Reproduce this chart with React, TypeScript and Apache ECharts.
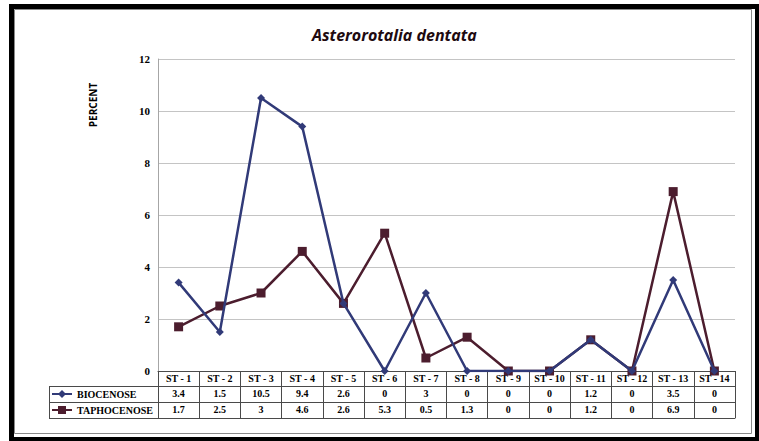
import React, { useEffect, useRef } from "react";
import * as echarts from "echarts";

// Stations along the transect
const stations = [
  "ST - 1", "ST - 2", "ST - 3", "ST - 4", "ST - 5", "ST - 6", "ST - 7",
  "ST - 8", "ST - 9", "ST - 10", "ST - 11", "ST - 12", "ST - 13", "ST - 14",
];

// Relative abundance (%) of Asterorotalia dentata
const biocenose = [3.4, 1.5, 10.5, 9.4, 2.6, 0, 3, 0, 0, 0, 1.2, 0, 3.5, 0];
const taphocenose = [1.7, 2.5, 3, 4.6, 2.6, 5.3, 0.5, 1.3, 0, 0, 1.2, 0, 6.9, 0];

const yTicks = { min: 0, max: 12, interval: 2 };

const BLUE = "#313a78";
const MAROON = "#4c1d2e";
const TABLE_LINE = "#4a4a4a";
const SERIF = "Liberation Serif";
const SANS = "Open Sans";

const ROW = 16; // data-table row height

export default function App() {
  const ref = useRef<HTMLDivElement>(null);

  useEffect(() => {
    if (!ref.current) return;
    const chart = echarts.init(ref.current, undefined, { renderer: "svg" });

    const tableAxis = (offset: number, values: (string | number)[] | null, ticks: boolean) => ({
      type: "category" as const,
      data: stations,
      position: "bottom" as const,
      offset,
      boundaryGap: true,
      axisLine: { show: true, lineStyle: { color: TABLE_LINE, width: 1 } },
      axisTick: { show: ticks, length: ROW, interval: 0, lineStyle: { color: TABLE_LINE, width: 1 } },
      axisLabel: {
        show: values !== null,
        interval: 0,
        margin: 2,
        fontFamily: SERIF,
        fontWeight: "bold" as const,
        fontSize: 10,
        color: "#000",
        formatter: (_v: string, i: number) => (values ? String(values[i]) : ""),
      },
      splitLine: { show: false },
    });

    const gridLeft = 158;
    const legendTop = 386;

    chart.setOption({
      animation: false,
      backgroundColor: "#fff",
      title: {
        text: "Asterorotalia dentata",
        left: 312,
        top: 27,
        padding: 0,
        textStyle: {
          fontFamily: SANS,
          fontStyle: "italic",
          fontWeight: "bold",
          fontSize: 16,
          color: "#1e0a10",
        },
      },
      grid: { left: gridLeft, top: 59, right: 24, bottom: 70, containLabel: false },
      legend: {
        orient: "vertical",
        left: 51,
        top: legendTop + 3,
        padding: 0,
        itemWidth: 20,
        itemHeight: 10,
        itemGap: 6,
        textStyle: { fontFamily: SERIF, fontWeight: "bold", fontSize: 10, color: "#000" },
        data: ["BIOCENOSE", "TAPHOCENOSE"],
      },
      xAxis: [
        tableAxis(0, stations, true),
        tableAxis(ROW - 1, biocenose, true),
        tableAxis(2 * ROW - 1, taphocenose, true),
        tableAxis(3 * ROW - 1, null, false),
      ],
      yAxis: {
        type: "value",
        min: yTicks.min,
        max: yTicks.max,
        interval: yTicks.interval,
        axisLine: { show: true, lineStyle: { color: "#a6a6a6" } },
        axisTick: { show: false },
        axisLabel: {
          margin: 8,
          fontFamily: SERIF,
          fontWeight: "bold",
          fontSize: 11,
          color: "#000",
        },
        splitLine: { show: true, lineStyle: { color: "#c4c4c4", width: 1 } },
      },
      series: [
        {
          name: "BIOCENOSE",
          type: "line",
          xAxisIndex: 0,
          data: biocenose,
          symbol: "diamond",
          symbolSize: 8,
          lineStyle: { color: BLUE, width: 2.5 },
          itemStyle: { color: BLUE },
          z: 3,
        },
        {
          name: "TAPHOCENOSE",
          type: "line",
          xAxisIndex: 0,
          data: taphocenose,
          symbol: "rect",
          symbolSize: 9,
          lineStyle: { color: MAROON, width: 2.5 },
          itemStyle: { color: MAROON },
          z: 2,
        },
      ],
      graphic: [
        // frame
        {
          type: "rect",
          shape: { x: 11.5, y: 6.5, width: 746, height: 433 },
          style: { fill: "none", stroke: "#000", lineWidth: 5 },
          silent: true,
        },
        {
          type: "rect",
          shape: { x: 14.5, y: 9.5, width: 737, height: 424 },
          style: { fill: "none", stroke: "#8a8a8a", lineWidth: 1 },
          silent: true,
        },
        // y-axis title
        {
          type: "text",
          x: 93,
          y: 105,
          rotation: Math.PI / 2,
          style: {
            text: "PERCENT",
            fontFamily: SANS,
            fontWeight: "bold",
            fontSize: 10,
            fill: "#000",
            align: "center",
            verticalAlign: "middle",
          },
        },
        // legend column of the data table
        ...[0, 1, 2].map((k) => ({
          type: "line",
          shape: { x1: 49, y1: legendTop + k * ROW + 0.5, x2: gridLeft, y2: legendTop + k * ROW + 0.5 },
          style: { stroke: TABLE_LINE, lineWidth: 1 },
          silent: true,
        })),
        {
          type: "line",
          shape: { x1: 49.5, y1: legendTop, x2: 49.5, y2: legendTop + 2 * ROW + 1 },
          style: { stroke: TABLE_LINE, lineWidth: 1 },
          silent: true,
        },
        {
          type: "line",
          shape: { x1: gridLeft + 0.5, y1: legendTop, x2: gridLeft + 0.5, y2: legendTop + 2 * ROW + 1 },
          style: { stroke: TABLE_LINE, lineWidth: 1 },
          silent: true,
        },
      ],
    });

    return () => chart.dispose();
  }, []);

  return (
    <div
      ref={ref}
      style={{ position: "fixed", left: 0, top: 0, width: 759, height: 441 }}
    />
  );
}
